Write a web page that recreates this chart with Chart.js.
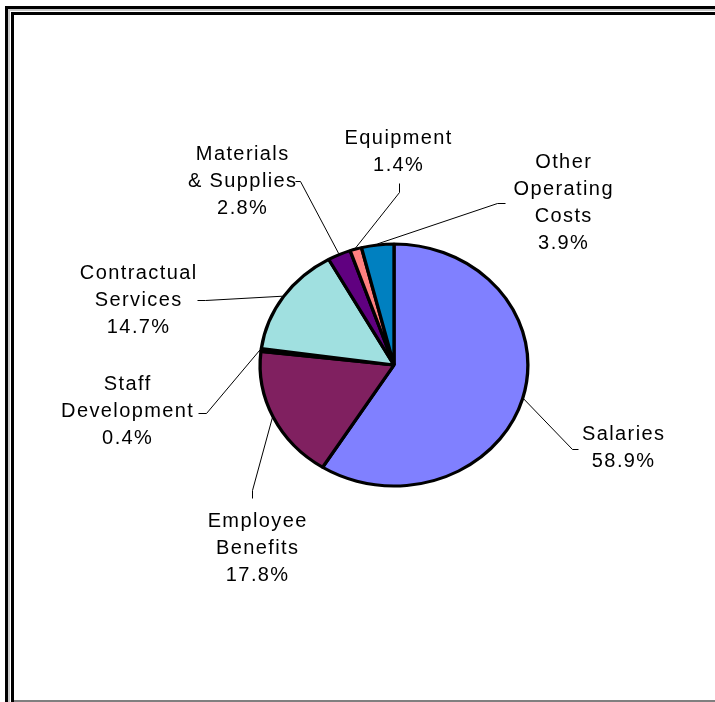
<!DOCTYPE html>
<html>
<head>
<meta charset="utf-8">
<style>
html, body { margin: 0; padding: 0; background: #fff; }
</style>
<script src="https://cdn.jsdelivr.net/npm/chart.js@4.4.1/dist/chart.umd.min.js"></script>
</head>
<body>
<canvas id="budget_chart" width="715" height="702"></canvas>
<script>
// budget split, percent of total
var categories = ["Salaries", "Employee Benefits", "Staff Development", "Contractual Services", "Materials & Supplies", "Equipment", "Other Operating Costs"];
var percents = [58.9, 17.8, 0.4, 14.7, 2.8, 1.4, 3.9];
var labelLines = [["Salaries"], ["Employee", "Benefits"], ["Staff", "Development"], ["Contractual", "Services"], ["Materials", "& Supplies"], ["Equipment"], ["Other", "Operating", "Costs"]];

var sliceColors = ["#8080FF", "#802060", "#FFFFC0", "#A0E0E0", "#600080", "#FF8080", "#0080C0"];

// label block centres and leader line bends, relative to pie centre
var labelPos = [[229, 83], [-137, 183], [-267, 46], [-256, -65], [-152, -184], [4, -213], [169, -162]];
var leaderPts = [
    [[178, 84], [184, 84]],
    [[-142, 125], [-142, 133]],
    [[-188, 48], [-196, 48]],
    [[-189, -65], [-197, -65]],
    [[-94, -184], [-99, -184]],
    [[5, -173], [5, -182]],
    [[103, -162], [111, -162]]
];

var pieRadius = 121;
var stretchX = 135 / 122;
var lineHeight = 27;

// white page with the double frame
var framePlugin = {
    id: 'frame',
    beforeDraw: function(chart) {
        var ctx = chart.ctx;
        ctx.save();
        ctx.fillStyle = "#fff";
        ctx.fillRect(0, 0, chart.width, chart.height);
        ctx.fillStyle = "#000";
        ctx.fillRect(5, 6, 710, 3);
        ctx.fillRect(5, 6, 3, 696);
        ctx.fillStyle = "#c8c8c8";
        ctx.fillRect(8, 9, 707, 2);
        ctx.fillRect(8, 9, 2, 693);
        ctx.fillStyle = "#000";
        ctx.fillRect(11, 12, 704, 3);
        ctx.fillRect(11, 12, 3, 690);
        ctx.fillStyle = "#808080";
        ctx.fillRect(14, 700, 701, 2);
        ctx.restore();
    }
};

// squash the pie into an ellipse
var stretchPlugin = {
    id: 'stretch',
    beforeDatasetsDraw: function(chart) {
        var arc = chart.getDatasetMeta(0).data[0];
        var ctx = chart.ctx;
        ctx.save();
        ctx.translate(arc.x, arc.y);
        ctx.scale(stretchX, 1);
        ctx.translate(-arc.x, -arc.y);
    },
    afterDatasetsDraw: function(chart) {
        chart.ctx.restore();
    }
};

var labelPlugin = {
    id: 'sliceLabels',
    afterDraw: function(chart) {
        var ctx = chart.ctx;
        var arcs = chart.getDatasetMeta(0).data;
        ctx.save();
        ctx.strokeStyle = "#000";
        ctx.lineWidth = 1;
        ctx.fillStyle = "#000";
        ctx.font = "20px 'Liberation Sans', Arial, sans-serif";
        ctx.letterSpacing = "1.4px";
        ctx.textAlign = "center";
        ctx.textBaseline = "middle";
        for (var i = 0; i < arcs.length; i++) {
            var a = arcs[i];
            var cx = a.x, cy = a.y;
            var mid = (a.startAngle + a.endAngle) / 2;
            var ex = cx + Math.cos(mid) * (a.outerRadius + 1) * stretchX;
            var ey = cy + Math.sin(mid) * (a.outerRadius + 1);

            ctx.beginPath();
            ctx.moveTo(ex, ey);
            for (var k = 0; k < leaderPts[i].length; k++) {
                ctx.lineTo(cx + leaderPts[i][k][0] + 0.5, cy + leaderPts[i][k][1] + 0.5);
            }
            ctx.stroke();

            var lines = labelLines[i].concat([percents[i].toFixed(1) + "%"]);
            var bx = cx + labelPos[i][0];
            var by = cy + labelPos[i][1];
            for (var j = 0; j < lines.length; j++) {
                ctx.fillText(lines[j], bx + 0.7, by + (j - (lines.length - 1) / 2) * lineHeight);
            }
        }
        ctx.restore();
    }
};

var ctxBudget = document.getElementById("budget_chart").getContext("2d");

var budget_chart = new Chart(ctxBudget, {
    type: 'pie',
    data: {
        labels: categories,
        datasets: [{
            data: percents,
            backgroundColor: sliceColors,
            borderColor: "#000",
            borderWidth: 3,
            radius: pieRadius
        }]
    },
    options: {
        responsive: false,
        animation: false,
        layout: {
            padding: { left: 150, right: 77, top: 150, bottom: 122 }
        },
        plugins: {
            legend: { display: false },
            tooltip: { enabled: false }
        }
    },
    plugins: [framePlugin, stretchPlugin, labelPlugin]
});
</script>
</body>
</html>
